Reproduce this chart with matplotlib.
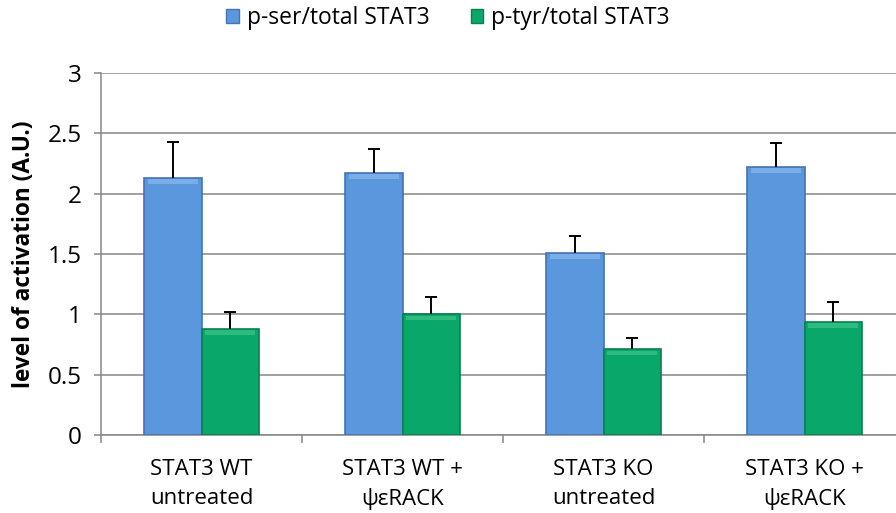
import numpy as np
import matplotlib.pyplot as plt
from matplotlib.patches import Patch

plt.rcParams['font.family'] = ['Open Sans', 'DejaVu Sans']

groups = ['STAT3 WT\nuntreated', 'STAT3 WT +\nψεRACK', 'STAT3 KO\nuntreated', 'STAT3 KO +\nψεRACK']
ser_vals = [2.13, 2.17, 1.51, 2.22]
ser_err = [0.30, 0.20, 0.14, 0.20]
tyr_vals = [0.88, 1.00, 0.71, 0.94]
tyr_err = [0.14, 0.14, 0.09, 0.16]
series_names = ['p-ser/total STAT3', 'p-tyr/total STAT3']

blue = '#5b97dd'
blue_edge = '#4474b3'
green = '#0aa76a'
green_edge = '#08804f'
grid_c = '#868686'

fig = plt.figure(figsize=(8.96, 5.13), dpi=100)
ax = fig.add_axes([101/896, 1 - 435/513, 804/896, (435 - 73)/513])

x = np.arange(len(groups))
w = 0.284

ax.bar(x - w/2, ser_vals, w, color=blue, edgecolor=blue_edge, linewidth=1.2, zorder=3)
ax.bar(x + w/2, tyr_vals, w, color=green, edgecolor=green_edge, linewidth=1.2, zorder=3)
# lighter band along the top of each bar
ax.bar(x - w/2, [0.04]*4, w*0.88, bottom=np.array(ser_vals) - 0.05, color='#7aaee8', linewidth=0, zorder=4)
ax.bar(x + w/2, [0.04]*4, w*0.88, bottom=np.array(tyr_vals) - 0.05, color='#2dbb80', linewidth=0, zorder=4)

# error bars: upper whisker with a cap only
for xs, vals, errs in [(x - w/2, ser_vals, ser_err), (x + w/2, tyr_vals, tyr_err)]:
    tops = np.array(vals) + np.array(errs)
    ax.vlines(xs, vals, tops, color='black', linewidth=1.4, zorder=5)
    ax.hlines(tops, xs - 0.028, xs + 0.028, color='black', linewidth=1.4, zorder=5)

ax.set_xlim(-0.5, len(groups) - 0.5)
ax.set_ylim(0, 3)
ax.set_yticks(np.arange(0, 3.01, 0.5))
ax.set_yticklabels(['0', '0.5', '1', '1.5', '2', '2.5', '3'])
ax.yaxis.grid(True, color=grid_c, linewidth=1.1, zorder=0)
ax.set_axisbelow(True)

ax.set_xticks(x)
ax.set_xticklabels(groups, fontsize=16, linespacing=1.5)
ax.set_xticks(np.arange(-0.5, len(groups)), minor=True)
ax.tick_params(axis='x', which='major', length=0, pad=17)
ax.tick_params(axis='x', which='minor', length=6, color=grid_c, width=1.1)
ax.tick_params(axis='y', length=5, color=grid_c, width=1.1, labelsize=17.5, pad=9)

for s in ['top', 'right']:
    ax.spines[s].set_visible(False)
for s in ['left', 'bottom']:
    ax.spines[s].set_color(grid_c)
    ax.spines[s].set_linewidth(1.1)

ax.set_ylabel('level of activation (A.U.)', fontsize=16.3, fontweight='bold', labelpad=8)

handles = [Patch(facecolor=blue, edgecolor=blue_edge), Patch(facecolor=green, edgecolor=green_edge)]
fig.legend(handles, series_names, loc='center', bbox_to_anchor=(0.5, 1 - 18/513), ncol=2,
           frameon=False, fontsize=16.5, handlelength=0.55, handleheight=0.55,
           handletextpad=0.35, columnspacing=1.8)

fig.savefig('out.png', dpi=100)
